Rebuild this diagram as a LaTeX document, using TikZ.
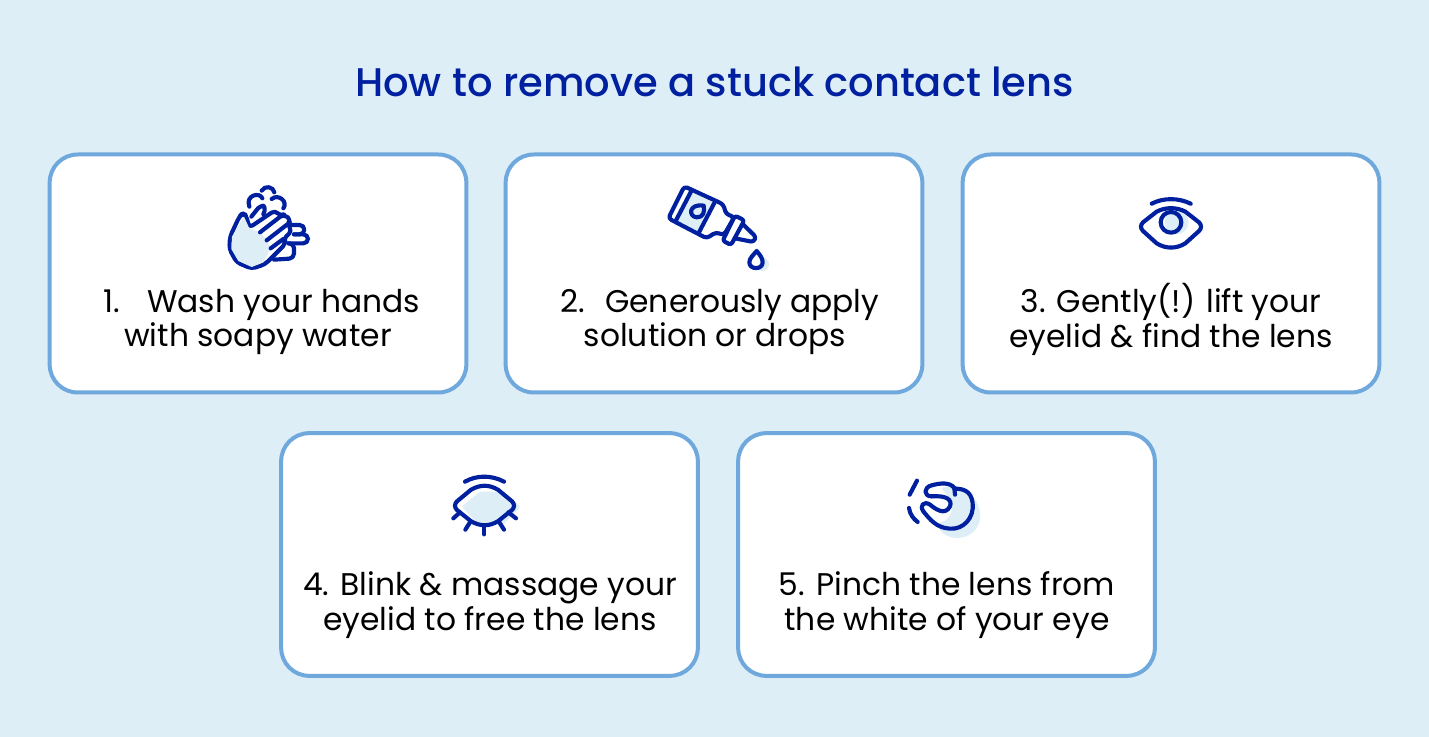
\documentclass[tikz,border=0pt]{standalone}
\usepackage{fontspec}
\setmainfont{Poppins}
\newfontfamily\headfont{Poppins Medium}
\definecolor{bgblue}{HTML}{DDEEF6}
\definecolor{edgeblue}{HTML}{6FA8DC}
\definecolor{navy}{HTML}{00209F}
\begin{document}
\begin{tikzpicture}[x=0.75pt,y=-0.75pt]
    \tikzstyle{card}=[draw=edgeblue,line width=3pt,fill=white,rounded corners=21pt,minimum width=312.5pt,minimum height=178.5pt,inner sep=0pt]
    \tikzstyle{cardlow}=[card,minimum height=182pt]
    \tikzstyle{steptext}=[align=center,text=black,inner sep=0pt,font=\fontsize{23.5}{26.2}\selectfont]
    \tikzstyle{heading}=[text=navy,inner sep=0pt,font=\fontsize{30}{34}\headfont]
    \tikzstyle{icon}=[draw=navy,line width=3.1pt,line cap=round,line join=round]
    \tikzstyle{tint}=[fill=bgblue,draw=none]

    \fill[bgblue] (0,0) rectangle (1429,737);
    \useasboundingbox (0,0) rectangle (1429,737);

    \node[heading] at (714.5,82) (title) {How to remove a stuck contact lens};

    \node[card] at (258,273.5) (card1) {};
    \node[card] at (714,273.5) (card2) {};
    \node[card] at (1171,273.5) (card3) {};
    \node[cardlow] at (489.5,554.5) (card4) {};
    \node[cardlow] at (946.5,554.5) (card5) {};

    \node[steptext] at (258,322) (text1) {\kern6pt 1.\hspace{0.5em} Wash your hands\\with soapy water};
    \node[steptext] at (715,322) (text2) {\kern7pt 2.\hspace{0.3em} Generously apply\\solution or drops};
    \node[steptext] at (1171,319) (text3) {3. Gently(!) lift your\\eyelid \& find the lens};
    \node[steptext] at (490,605) (text4) {4. Blink \& massage your\\eyelid to free the lens};
    \node[steptext] at (947,605) (text5) {5. Pinch the lens from\\the white of your eye};

    % hands
    \begin{scope}[shift={(210,175)},x=0.25pt,y=-0.25pt]
        \draw[icon,rounded corners=3.5pt] (240,150) -- (283,150) -- (283,178) -- (252,178);
        \draw[icon,rounded corners=3.5pt] (252,178) -- (294,178) -- (294,205) -- (235,205);
        \draw[icon,rounded corners=3.5pt] (235,205) -- (252,205) -- (252,250) -- (192,254);
        \draw[icon,rounded corners=3pt] (124,125) -- (152,90) -- (168,96) -- (160,118);
        \draw[icon,fill=white,rounded corners=3pt] (118,158) -- (108,120) -- (97,115) -- (88,125) -- (60,185) -- (58,222) -- (80,262) -- (125,281) -- (165,268) -- (228,205) -- (220,192) -- (246,168) -- (232,148) -- (243,135) -- (222,118) -- (212,124) -- (195,106) -- cycle;
        \fill[tint] (102,125) -- (118,160) -- (150,172) -- (170,196) -- (182,220) -- (160,262) -- (125,276) -- (85,258) -- (64,222) -- (66,185) -- cycle;
        \draw[icon] (150,172) -- (212,124);
        \draw[icon] (170,196) -- (232,148);
        \draw[icon] (182,220) -- (220,192);
        \draw[icon] (118,95) .. controls (105,60) and (150,50) .. (157,70);
        \draw[icon] (155,47) .. controls (165,30) and (190,35) .. (193,52);
        \draw[icon] (185,72) .. controls (205,55) and (235,80) .. (220,100);
    \end{scope}

    % bottle
    \begin{scope}[shift={(655,175)},x=0.25pt,y=-0.25pt]
        \fill[tint] (113,52) -- (177,84) -- (132,172) -- (66,138) -- cycle;
        \draw[icon,rounded corners=2.5pt] (88,34) -- (205,88) -- (213,117) -- (238,126) -- (207,180) -- (182,172) -- (155,190) -- (40,130) -- cycle;
        \draw[icon,fill=white,rounded corners=2pt] (240,122) -- (268,136) -- (228,210) -- (203,197) -- cycle;
        \draw[icon,rounded corners=2pt] (263,147) -- (303,186) -- (295,201) -- (240,190);
        \draw[icon] (110,46) -- (62,138);
        \draw[icon] (178,84) -- (132,172);
        \draw[icon] (146,92) .. controls (100,85) and (100,125) .. (125,127) .. controls (145,128) and (150,110) .. (146,92);
        \fill[tint] (322,268) circle[radius=20];
        \draw[icon,fill=white] (305,228) .. controls (295,240) and (283,250) .. (283,262) .. controls (283,285) and (323,285) .. (323,262) .. controls (323,250) and (315,240) .. (305,228);
    \end{scope}

    % open eye
    \begin{scope}[shift={(1125,185)},x=0.25pt,y=-0.25pt]
        \fill[tint] (155,112) circle[radius=36];
        \draw[icon] (80,56) .. controls (115,38) and (160,38) .. (197,56);
        \draw[icon] (48,125) .. controls (48,120) and (50,116) .. (54,112) -- (95,80) .. controls (122,66) and (154,66) .. (181,80) -- (222,112) .. controls (226,116) and (228,120) .. (228,125) .. controls (228,130) and (226,134) .. (222,138) -- (181,175) .. controls (154,192) and (122,192) .. (95,175) -- (54,138) .. controls (50,134) and (48,130) .. (48,125) -- cycle;
        \draw[icon] (138,112) circle[radius=31];
    \end{scope}

    % closed eye
    \begin{scope}[shift={(440,465)},x=0.25pt,y=-0.25pt]
        \fill[tint,rounded corners=2pt] (65,125) -- (120,80) -- (185,80) -- (243,125) -- (190,178) -- (115,178) -- cycle;
        \draw[icon] (75,50) .. controls (110,30) and (155,30) .. (192,50);
        \draw[icon] (45,122) .. controls (45,117) and (47,113) .. (51,109) -- (92,75) .. controls (120,58) and (148,58) .. (175,75) -- (216,109) .. controls (220,113) and (222,117) .. (222,122) .. controls (222,127) and (220,131) .. (216,135) -- (175,168) .. controls (148,185) and (120,185) .. (92,168) -- (51,135) .. controls (47,131) and (45,127) .. (45,122) -- cycle;
        \draw[icon] (60,142) -- (40,160);
        \draw[icon] (90,172) -- (76,194);
        \draw[icon] (133,182) -- (133,208);
        \draw[icon] (178,172) -- (192,194);
        \draw[icon] (205,142) -- (228,160);
    \end{scope}

    % pinch
    \begin{scope}[shift={(895,468)},x=0.25pt,y=-0.25pt]
        \fill[tint] (140,60) .. controls (200,40) and (245,80) .. (255,130) .. controls (262,180) and (225,212) .. (180,210) .. controls (145,205) and (130,185) .. (125,165) .. controls (165,165) and (180,125) .. (165,95) -- cycle;
        \draw[icon] (66,38) -- (44,80);
        \draw[icon] (42,120) .. controls (45,140) and (55,152) .. (68,162);
        \draw[icon] (110,85) .. controls (85,85) and (85,58) .. (110,52) .. controls (135,45) and (165,42) .. (178,60) .. controls (178,68) and (180,72) .. (180,80);
        \draw[icon] (178,62) .. controls (205,62) and (228,68) .. (233,105) .. controls (238,150) and (205,185) .. (165,182) .. controls (125,180) and (105,155) .. (85,130) .. controls (72,112) and (88,98) .. (105,110) .. controls (120,122) and (150,145) .. (165,115) .. controls (172,95) and (155,82) .. (110,85);
    \end{scope}
\end{tikzpicture}
\end{document}
